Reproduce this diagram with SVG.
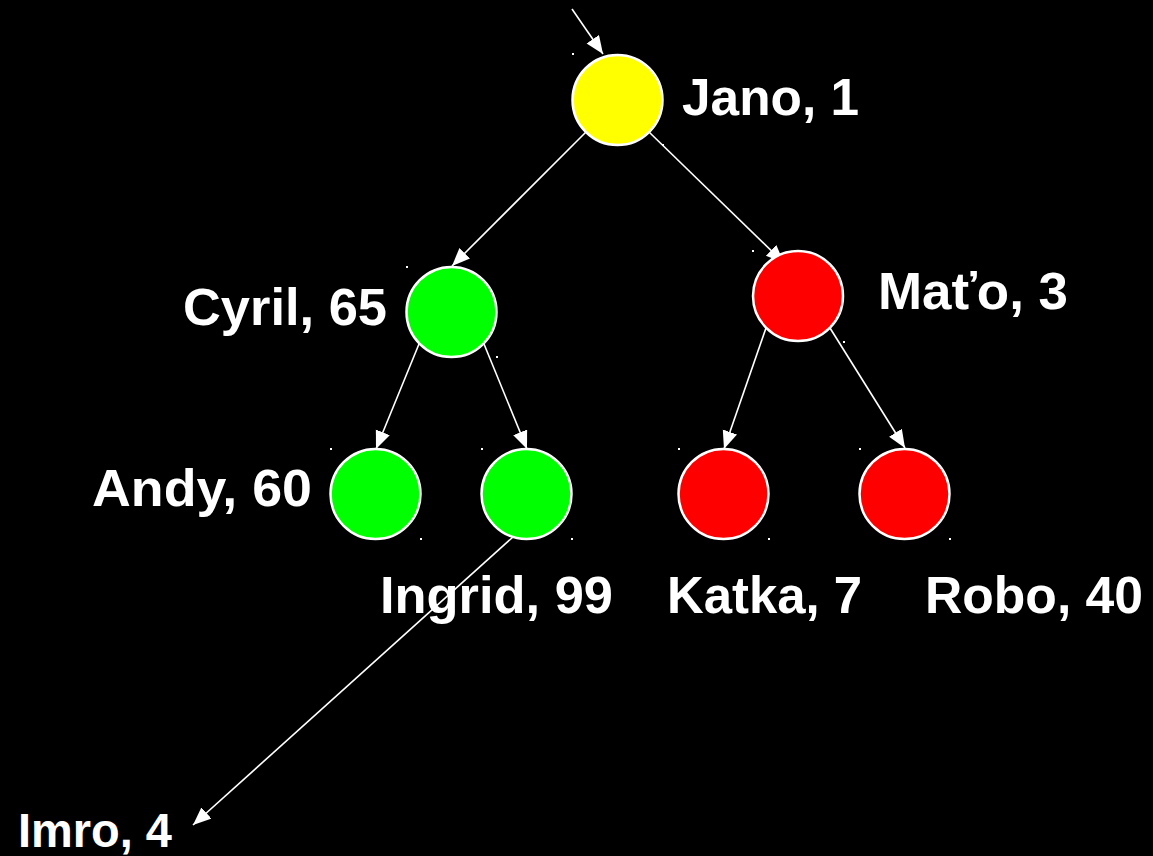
<svg xmlns="http://www.w3.org/2000/svg" width="1153" height="856" viewBox="0 0 1153 856">
<defs>
<style>
.n{stroke:#fff;stroke-width:2.5}
.y{fill:#ffff00}
.g{fill:#00ff00}
.r{fill:#ff0000}
.t{font-family:"Liberation Sans",Arial,sans-serif;font-weight:bold;font-size:52px;fill:#fff}
.e{stroke:#fff;stroke-width:1.6;fill:none;marker-end:url(#ah)}
.d{fill:#fff}
</style>
<marker id="ah" markerUnits="userSpaceOnUse" markerWidth="20" markerHeight="16" refX="18" refY="7.5" orient="auto">
<path d="M0,0 L18,7.5 L0,15 z" fill="#fff"/>
</marker>
</defs>
<rect x="0" y="0" width="1153" height="856" fill="#000"/>
<g id="connectors">
<line class="e" x1="572" y1="9" x2="603" y2="54"/>
<line class="e" x1="586" y1="132" x2="452" y2="266"/>
<line class="e" x1="649" y1="132" x2="784" y2="263"/>
<line class="e" x1="419" y1="344" x2="376" y2="449"/>
<line class="e" x1="484" y1="344" x2="527" y2="449"/>
<line class="e" x1="766" y1="328" x2="724" y2="449"/>
<line class="e" x1="830" y1="328" x2="905" y2="448"/>
<line class="e" x1="513" y1="537" x2="193" y2="825"/>
</g>
<g id="jano">
<circle class="n y" cx="617.5" cy="100" r="45"/>
<rect class="d" x="572" y="53" width="2" height="2"/><rect class="d" x="662" y="144" width="2" height="2"/>
<text class="t" x="682" y="115" textLength="177" lengthAdjust="spacingAndGlyphs">Jano, 1</text>
</g>
<g id="mato">
<circle class="n r" cx="798" cy="296" r="45"/>
<rect class="d" x="752" y="250" width="2" height="2"/><rect class="d" x="843" y="341" width="2" height="2"/>
<text class="t" x="878" y="309" textLength="190" lengthAdjust="spacingAndGlyphs">Maťo, 3</text>
</g>
<g id="cyril">
<circle class="n g" cx="451.5" cy="312" r="45"/>
<rect class="d" x="406" y="266" width="2" height="2"/><rect class="d" x="496" y="356" width="2" height="2"/>
<text class="t" x="183" y="325" textLength="204" lengthAdjust="spacingAndGlyphs">Cyril, 65</text>
</g>
<g id="andy">
<circle class="n g" cx="375.5" cy="494" r="45"/>
<rect class="d" x="330" y="448" width="2" height="2"/><rect class="d" x="420" y="538" width="2" height="2"/>
<text class="t" x="92" y="506" textLength="220" lengthAdjust="spacingAndGlyphs">Andy, 60</text>
</g>
<g id="ingrid">
<circle class="n g" cx="526.5" cy="494" r="45"/>
<rect class="d" x="481" y="448" width="2" height="2"/><rect class="d" x="571" y="538" width="2" height="2"/>
<text class="t" x="380" y="613" textLength="233" lengthAdjust="spacingAndGlyphs">Ingrid, 99</text>
</g>
<g id="katka">
<circle class="n r" cx="723.5" cy="494" r="45"/>
<rect class="d" x="678" y="448" width="2" height="2"/><rect class="d" x="768" y="538" width="2" height="2"/>
<text class="t" x="667" y="613" textLength="195" lengthAdjust="spacingAndGlyphs">Katka, 7</text>
</g>
<g id="robo">
<circle class="n r" cx="904.5" cy="494" r="45"/>
<rect class="d" x="859" y="448" width="2" height="2"/><rect class="d" x="949" y="538" width="2" height="2"/>
<text class="t" x="925" y="613" textLength="218" lengthAdjust="spacingAndGlyphs">Robo, 40</text>
</g>
<g id="imro">
<text class="t" x="18" y="847" style="font-size:48px" textLength="154" lengthAdjust="spacingAndGlyphs">Imro, 4</text>
</g>
</svg>
